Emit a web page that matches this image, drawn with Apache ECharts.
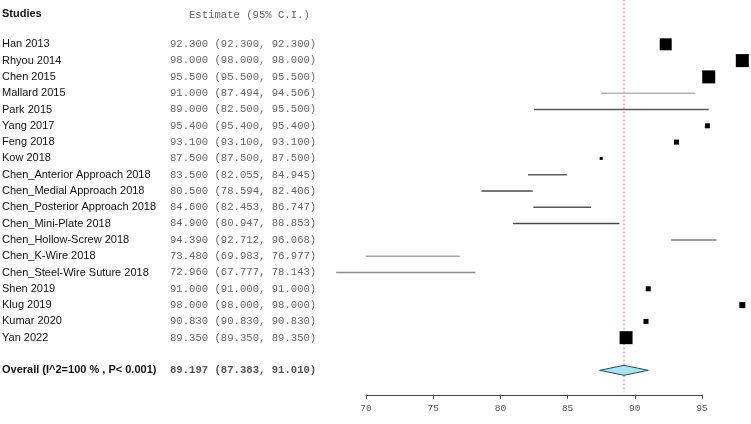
<!DOCTYPE html>
<html><head><meta charset="utf-8">
<script src="https://cdn.jsdelivr.net/npm/echarts@6/dist/echarts.min.js"></script>
<style>html,body{margin:0;padding:0;background:#fff}#c{width:751px;height:424px}</style>
</head><body><div id="c"></div>
<script>
// ---- data ----
const studies = ["Han 2013","Rhyou 2014","Chen 2015","Mallard 2015","Park 2015","Yang 2017","Feng 2018","Kow 2018",
  "Chen_Anterior Approach 2018","Chen_Medial Approach 2018","Chen_Posterior Approach 2018","Chen_Mini-Plate 2018",
  "Chen_Hollow-Screw 2018","Chen_K-Wire 2018","Chen_Steel-Wire Suture 2018","Shen 2019","Klug 2019","Kumar 2020","Yan 2022"];
const estimates = [92.300,98.000,95.500,91.000,89.000,95.400,93.100,87.500,83.500,80.500,84.600,84.900,94.390,73.480,72.960,91.000,98.000,90.830,89.350];
const lowerCI   = [92.300,98.000,95.500,87.494,82.500,95.400,93.100,87.500,82.055,78.594,82.453,80.947,92.712,69.983,67.777,91.000,98.000,90.830,89.350];
const upperCI   = [92.300,98.000,95.500,94.506,95.500,95.400,93.100,87.500,84.945,82.406,86.747,88.853,96.068,76.977,78.143,91.000,98.000,90.830,89.350];
const overallLabel = "Overall (I^2=100 % , P< 0.001)";
const overallEst = 89.197, overallLo = 87.383, overallHi = 91.010;
const xTickValues = [70, 75, 80, 85, 90, 95];

// ---- styles (kept apart from data) ----
const boxSize = [12,13,13,0,0,5,5,3,0,0,0,0,0,0,0,5,6,5,13];
const ciColor = ["#000","#000","#000","#b4b4b4","#5a5a5a","#000","#000","#000","#5e5e5e","#4a4a4a","#555","#4a4a4a","#7a7a7a","#a8a8a8","#8e8e8e","#000","#000","#000","#000"];

const fmt = v => v.toFixed(3);
const rows = studies.map((s, i) => [i, estimates[i], lowerCI[i], upperCI[i]]);
const overallRow = studies.length + 1;

const nameFont = '11px "Liberation Sans", Arial, sans-serif';
const monoFont = '10.6px "Liberation Mono", "DejaVu Sans Mono", monospace';
const NAME_X = 2, EST_X = 170;

const chart = echarts.init(document.getElementById('c'), null, {renderer: 'canvas'});
chart.setOption({
  animation: false,
  grid: {left: 366, right: 49, top: 3.55, bottom: 29.25},
  xAxis: {
    type: 'value', min: 70, max: 95, interval: 5,
    axisLine: {show: true, onZero: false, lineStyle: {color: '#444', width: 1}},
    axisTick: {show: true, length: 4, lineStyle: {color: '#444'}},
    axisLabel: {color: '#555', fontSize: 9.5, margin: 9, fontFamily: '"Liberation Mono", monospace',
      formatter: v => xTickValues.includes(v) ? String(v) : ''},
    splitLine: {show: false}
  },
  yAxis: {type: 'value', inverse: true, min: -2.5, max: 21.5, show: false},
  series: [
    {
      type: 'custom', clip: false, z: 1,
      data: [[overallEst]],
      renderItem: function (params, api) {
        const top = api.coord([api.value(0), -2.75]), bot = api.coord([api.value(0), 21.35]);
        return {type: 'line', shape: {x1: top[0], y1: top[1], x2: bot[0], y2: bot[1]},
          style: {stroke: '#e58a9a', lineWidth: 1.2, lineDash: [2, 2]}};
      }
    },
    {
      type: 'custom', clip: false, z: 2,
      data: rows,
      renderItem: function (params, api) {
        const i = api.value(0), est = api.value(1), lo = api.value(2), hi = api.value(3);
        const y = api.coord([est, i])[1];
        const children = [];
        children.push({type: 'text', style: {text: studies[i], x: NAME_X, y: y, font: nameFont, fill: '#111', textVerticalAlign: 'middle'}});
        children.push({type: 'text', style: {text: fmt(est) + ' (' + fmt(lo) + ', ' + fmt(hi) + ')', x: EST_X, y: y, font: monoFont, fill: '#666', textVerticalAlign: 'middle'}});
        const pLo = api.coord([lo, i]), pHi = api.coord([hi, i]), pE = api.coord([est, i]);
        if (hi > lo) {
          children.push({type: 'line', shape: {x1: pLo[0], y1: y, x2: pHi[0], y2: y}, style: {stroke: ciColor[i], lineWidth: 1.5}});
        }
        const s = boxSize[i];
        if (s > 0) {
          children.push({type: 'rect', shape: {x: pE[0] - s / 2, y: y - s / 2, width: s, height: s}, style: {fill: '#000'}});
        }
        return {type: 'group', children: children};
      }
    },
    {
      type: 'custom', clip: false, z: 3,
      data: [[overallRow, overallEst, overallLo, overallHi]],
      renderItem: function (params, api) {
        const r = api.value(0), est = api.value(1), lo = api.value(2), hi = api.value(3);
        const pE = api.coord([est, r]), pL = api.coord([lo, r]), pH = api.coord([hi, r]);
        const y = pE[1];
        return {type: 'group', children: [
          {type: 'polygon', shape: {points: [[pL[0], y], [pE[0], y - 5], [pH[0], y], [pE[0], y + 5]]}, style: {fill: '#a8e4f2', stroke: '#2a4a5a', lineWidth: 1}},
          {type: 'text', style: {text: overallLabel, x: NAME_X, y: y, font: 'bold ' + nameFont, fill: '#111', textVerticalAlign: 'middle'}},
          {type: 'text', style: {text: fmt(est) + ' (' + fmt(lo) + ', ' + fmt(hi) + ')', x: EST_X, y: y, font: 'bold ' + monoFont, fill: '#555', textVerticalAlign: 'middle'}},
          {type: 'text', style: {text: 'Studies', x: NAME_X, y: api.coord([est, -1.85])[1], font: 'bold ' + nameFont, fill: '#111', textVerticalAlign: 'middle'}},
          {type: 'text', style: {text: 'Estimate (95% C.I.)', x: 189, y: api.coord([est, -1.8])[1], font: monoFont, fill: '#666', textVerticalAlign: 'middle'}}
        ]};
      }
    }
  ]
});
</script>
</body></html>
